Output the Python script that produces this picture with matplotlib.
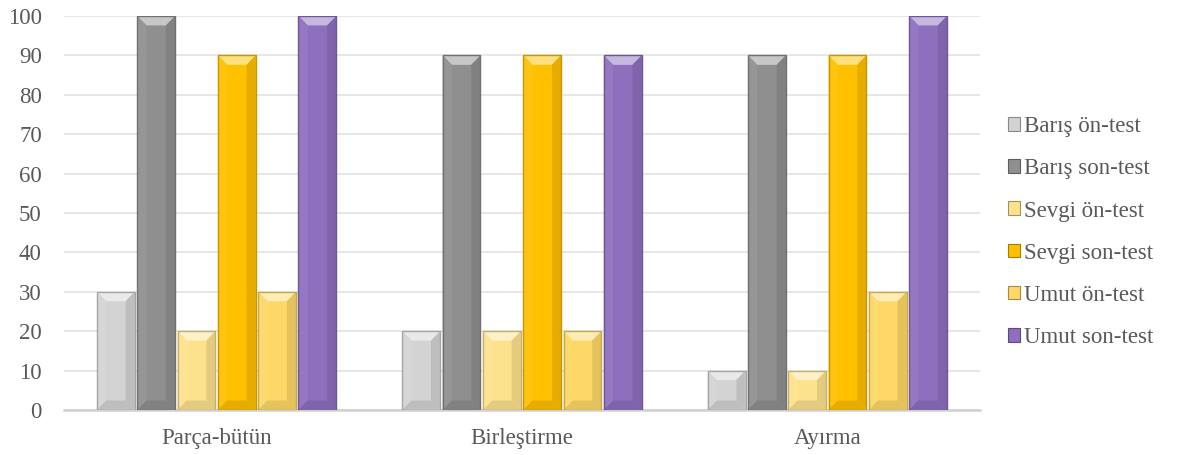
import numpy as np
import matplotlib
matplotlib.use('Agg')
import matplotlib.pyplot as plt
from matplotlib.patches import Polygon, Rectangle, Patch
from matplotlib.colors import to_rgb

# -------------------------------
# 数据
# -------------------------------
categories = ['Parça-bütün', 'Birleştirme', 'Ayırma']
series_names = ['Barış ön-test', 'Barış son-test', 'Sevgi ön-test',
                'Sevgi son-test', 'Umut ön-test', 'Umut son-test']
baris_on = [30, 20, 10]
baris_son = [100, 90, 90]
sevgi_on = [20, 20, 10]
sevgi_son = [90, 90, 90]
umut_on = [30, 20, 30]
umut_son = [100, 90, 100]
colors = ['#d3d3d3', '#8f8f8f', '#fde28e', '#ffc000', '#fdd866', '#8d6fbe']

series = [baris_on, baris_son, sevgi_on, sevgi_son, umut_on, umut_son]

plt.rcParams['font.family'] = ['Liberation Serif', 'DejaVu Serif']

fig = plt.figure(figsize=(11.83, 4.55), dpi=100)
ax = fig.add_axes([64 / 1183, 45 / 455, 916 / 1183, 394 / 455])


def mix(c, other, t):
    c = np.array(to_rgb(c))
    return tuple(c * (1 - t) + np.array(other) * t)


def bevel_bar(ax, xc, w, h, color):
    # 斜面效果的柱子
    x0, x1 = xc - w / 2, xc + w / 2
    bx, by = 0.03, 2.4
    by = min(by, h / 2)
    ax.add_patch(Rectangle((x0, 0), w, h, facecolor=color,
                           edgecolor='none', zorder=3))
    top = [(x0, h), (x1, h), (x1 - bx, h - by), (x0 + bx, h - by)]
    left = [(x0, 0), (x0, h), (x0 + bx, h - by), (x0 + bx, by)]
    right = [(x1, 0), (x1, h), (x1 - bx, h - by), (x1 - bx, by)]
    bottom = [(x0, 0), (x1, 0), (x1 - bx, by), (x0 + bx, by)]
    ax.add_patch(Polygon(top, closed=True, facecolor=mix(color, (1, 1, 1), 0.5),
                         edgecolor='none', zorder=4))
    ax.add_patch(Polygon(left, closed=True, facecolor=mix(color, (1, 1, 1), 0.06),
                         edgecolor='none', zorder=4))
    ax.add_patch(Polygon(right, closed=True, facecolor=mix(color, (0, 0, 0), 0.1),
                         edgecolor='none', zorder=4))
    ax.add_patch(Polygon(bottom, closed=True, facecolor=mix(color, (0, 0, 0), 0.1),
                         edgecolor='none', zorder=4))
    ax.add_patch(Rectangle((x0, 0), w, h, facecolor='none',
                           edgecolor=mix(color, (0, 0, 0), 0.22), lw=1.0, zorder=5))


x = np.arange(len(categories))
slot = 0.132
bar_w = 0.124
for i, (vals, col) in enumerate(zip(series, colors)):
    offs = (i - (len(series) - 1) / 2) * slot
    for xi, v in zip(x, vals):
        bevel_bar(ax, xi + offs, bar_w, v, col)

ax.set_xlim(-0.5, len(categories) - 0.5)
ax.set_ylim(0, 100)
ax.set_yticks(np.arange(0, 101, 10))
ax.set_xticks(x)
ax.set_xticklabels(categories)
ax.grid(axis='y', color='#e3e3e3', lw=1.2, zorder=0)
ax.set_axisbelow(True)
for s in ['top', 'right', 'left']:
    ax.spines[s].set_visible(False)
ax.spines['bottom'].set_color('#d0d0d0')
ax.spines['bottom'].set_linewidth(1.8)
ax.spines['bottom'].set_zorder(2)
ax.tick_params(axis='both', length=0, labelsize=16.5, colors='#595959')
ax.tick_params(axis='y', pad=16)
ax.tick_params(axis='x', pad=13)

handles = [Patch(facecolor=c, edgecolor=mix(c, (0, 0, 0), 0.35), lw=0.8) for c in colors]
fig.legend(handles, series_names, loc='center left', bbox_to_anchor=(987 / 1183, 0.49),
           frameon=False, fontsize=16.5, handlelength=0.55, handleheight=0.55,
           handletextpad=0.15, labelspacing=0.92, labelcolor='#595959')

fig.savefig('out.png', dpi=100)
